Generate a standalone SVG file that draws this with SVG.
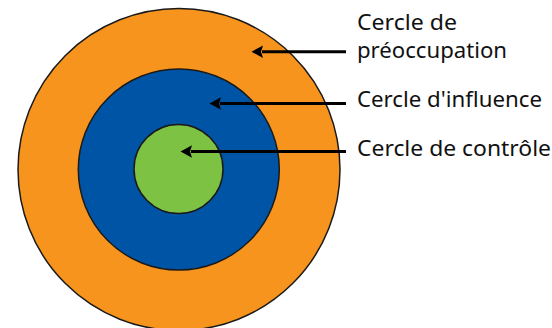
<svg xmlns="http://www.w3.org/2000/svg" width="552" height="328" viewBox="0 0 552 328">
<style>
.ring{stroke:#1a1a1a;stroke-width:1.5}
.lbl{font-family:"Noto Sans","Open Sans",sans-serif;font-size:22px;fill:#111}
.conn{stroke:#000;stroke-width:3;fill:none}
</style>
<rect width="552" height="328" fill="#fff"/>
<g id="preoccupation"><circle class="ring" cx="179" cy="169.5" r="161" fill="#F7941D"/></g>
<g id="influence"><circle class="ring" cx="178.8" cy="169.5" r="100.5" fill="#0054A6"/></g>
<g id="controle"><circle class="ring" cx="178.5" cy="169" r="44.5" fill="#7DC243"/></g>
<g id="connectors">
<line class="conn" x1="346" y1="51.7" x2="262" y2="51.7"/>
<path d="M251.5,51.7 L263,45.5 L261,51.7 L263,58 Z" fill="#000"/>
<line class="conn" x1="346" y1="103.5" x2="220" y2="103.5"/>
<path d="M209.5,103.5 L221,97.3 L219,103.5 L221,109.7 Z" fill="#000"/>
<line class="conn" x1="346" y1="151.5" x2="191" y2="151.5"/>
<path d="M180.5,151.5 L192,145.3 L190,151.5 L192,157.7 Z" fill="#000"/>
</g>
<g id="labels">
<text class="lbl" x="357" y="30" textLength="100" lengthAdjust="spacingAndGlyphs">Cercle de</text>
<text class="lbl" x="357" y="58.3" textLength="150" lengthAdjust="spacingAndGlyphs">préoccupation</text>
<text class="lbl" x="357" y="107" textLength="185" lengthAdjust="spacingAndGlyphs">Cercle d'influence</text>
<text class="lbl" x="357" y="155.5" textLength="194" lengthAdjust="spacingAndGlyphs">Cercle de contrôle</text>
</g>
</svg>
